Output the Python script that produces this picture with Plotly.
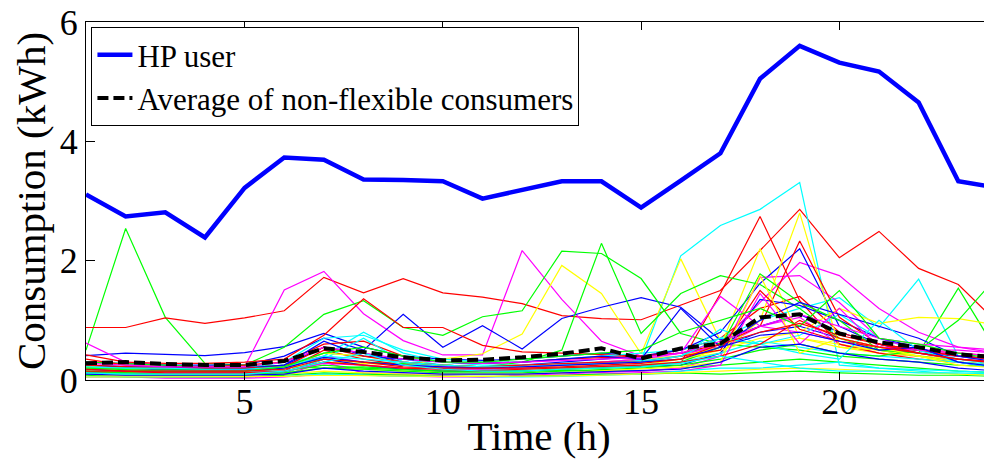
import plotly.graph_objects as go

hours = list(range(1, 25))

hp_user = [3.11, 2.74, 2.81, 2.39, 3.22, 3.73, 3.69, 3.36, 3.35, 3.33, 3.04, 3.18,
           3.33, 3.33, 2.89, 3.34, 3.80, 5.05, 5.60, 5.32, 5.17, 4.65, 3.33, 3.22]

avg_nonflex = [0.28, 0.30, 0.27, 0.25, 0.25, 0.32, 0.53, 0.47, 0.38, 0.33, 0.34, 0.38,
               0.44, 0.53, 0.36, 0.53, 0.61, 1.05, 1.10, 0.78, 0.63, 0.55, 0.43, 0.38]

c01 = [0.41,0.45,0.43,0.41,0.46,0.56,0.78,0.55,0.40,0.35,0.33,0.35,0.40,0.45,0.40,0.45,0.55,0.80,0.90,0.70,0.55,0.45,0.40,0.35]
c02 = [0.50,2.54,1.05,0.28,0.25,0.22,0.20,0.22,0.18,0.15,0.17,0.15,0.16,0.15,0.15,0.20,0.25,0.30,0.35,0.30,0.25,0.20,0.15,0.12]
c03 = [0.88,0.88,1.04,0.95,1.04,1.16,1.72,1.46,1.70,1.46,1.39,1.28,1.08,1.03,1.01,1.25,1.50,2.17,2.86,2.05,2.49,1.87,1.60,0.95]
c04 = [0.20,0.20,0.18,0.18,0.18,0.25,0.45,0.40,0.35,0.25,0.22,0.22,0.25,0.28,0.33,2.08,2.59,2.86,3.31,0.25,0.20,0.18,0.15,0.12]
c05 = [0.62,0.30,0.25,0.20,0.22,1.51,1.82,1.11,0.66,0.42,0.42,2.17,1.35,0.65,0.40,0.45,0.55,0.90,1.05,0.60,0.45,0.40,0.35,0.30]
c06 = [0.18,0.15,0.15,0.15,0.15,0.20,0.30,0.28,0.25,0.35,0.44,0.77,1.92,1.45,0.44,2.03,0.66,0.60,0.70,0.55,0.45,0.40,0.35,0.30]
c07 = [0.30,0.28,0.25,0.25,0.25,0.40,0.70,0.50,1.10,0.55,0.91,0.52,1.03,1.22,1.38,1.22,0.67,0.90,1.10,0.80,0.60,0.50,0.40,0.35]
c08 = [0.30,0.28,0.25,0.22,0.25,0.55,1.10,1.33,0.88,0.75,1.06,1.16,2.16,2.12,1.70,0.78,0.60,0.55,0.50,0.40,0.35,0.30,0.25,0.22]
c09 = [0.42,0.30,0.28,0.28,0.30,0.35,0.75,1.36,0.88,0.88,0.58,0.47,0.45,0.42,0.40,0.50,0.70,1.20,1.40,0.80,0.60,0.50,0.40,0.35]
c10 = [0.25,0.22,0.20,0.20,0.20,0.30,0.70,0.75,0.50,0.35,0.30,0.30,0.35,0.40,0.45,0.50,0.70,1.00,1.20,1.38,0.88,1.69,0.40,0.30]
c11 = [0.20,0.18,0.15,0.15,0.15,0.25,0.40,0.30,0.25,0.22,0.20,0.22,0.25,0.30,0.35,0.40,0.60,1.30,1.97,1.75,1.20,0.80,0.55,0.45]
c12 = [0.15,0.12,0.12,0.12,0.12,0.15,0.30,0.25,0.20,0.18,0.18,0.20,0.25,0.30,0.35,0.40,0.55,2.20,0.70,0.60,0.50,0.40,0.30,0.25]
c13 = [0.20,0.18,0.18,0.17,0.17,0.25,0.55,0.45,0.30,0.25,0.22,0.25,0.30,0.35,0.40,0.50,0.80,1.62,2.20,0.90,0.60,0.45,0.35,0.30]
c14 = [0.22,0.20,0.18,0.18,0.20,0.25,0.35,0.30,0.28,0.25,0.22,0.30,0.50,2.29,0.78,1.45,1.75,1.60,1.20,0.70,0.50,0.40,0.30,0.25]
c15 = [0.12,0.12,0.10,0.10,0.10,0.15,0.50,0.35,0.25,0.20,0.18,0.18,0.20,0.22,0.25,0.28,1.45,2.74,1.33,0.60,0.45,0.35,0.30,0.25]
c16 = [0.15,0.14,0.13,0.13,0.13,0.18,0.40,0.80,0.45,0.30,0.25,0.25,0.28,0.30,0.32,0.40,0.85,0.60,0.75,1.10,0.70,0.50,0.35,0.25]
c17 = [0.10,0.08,0.05,0.05,0.05,0.08,0.30,0.12,0.10,0.08,0.05,0.08,0.10,0.12,0.15,0.20,0.40,1.72,1.75,1.30,0.70,0.50,0.40,0.30]
c18 = [0.10,0.10,0.10,0.10,0.10,0.12,0.20,0.18,0.15,0.15,0.15,0.15,0.18,0.20,0.25,0.35,0.45,1.00,2.80,0.55,0.50,0.40,0.30,0.25]
c19 = [0.12,0.10,0.10,0.10,0.10,0.12,0.35,0.25,0.18,0.15,0.15,0.15,0.18,0.20,0.22,0.25,0.45,1.35,1.25,1.00,0.70,0.55,0.30,0.20]
c20 = [0.15,0.12,0.12,0.12,0.12,0.15,0.25,0.20,0.18,0.15,0.15,0.15,0.18,0.20,0.22,0.30,0.55,1.78,1.30,1.00,0.50,0.45,1.54,0.45]
c21 = [0.35,0.25,0.22,0.22,0.25,0.30,0.60,0.65,0.40,0.30,0.28,0.30,0.35,0.38,0.40,0.45,0.60,0.90,2.33,1.05,0.60,0.50,0.40,0.35]
c22 = [0.10,0.10,0.08,0.08,0.08,0.12,0.35,0.70,0.30,0.20,0.18,0.18,0.20,0.22,0.25,0.30,0.45,0.65,0.55,0.45,0.40,0.35,0.30,0.20]
c23 = [0.20,0.15,0.12,0.12,0.12,0.15,0.28,0.25,0.20,0.18,0.18,0.20,0.25,0.30,0.35,0.45,1.40,0.90,0.80,0.65,0.55,0.50,0.50,0.45]
c24 = [0.20,0.18,0.15,0.15,0.15,0.20,0.45,0.40,0.30,0.25,0.22,0.22,0.25,0.28,0.30,0.35,0.50,0.70,0.80,1.20,0.95,1.05,1.03,0.92]
c25 = [0.25,0.22,0.22,0.20,0.20,0.25,0.65,0.40,0.35,0.30,0.28,0.30,0.35,0.40,0.35,1.20,0.55,1.00,1.30,1.10,0.90,0.70,0.40,0.30]
c26 = [0.12,0.10,0.10,0.10,0.10,0.12,0.20,0.18,0.15,0.12,0.12,0.12,0.15,0.18,0.20,0.25,0.35,0.50,0.60,0.45,0.40,0.50,1.00,1.75]
c27 = [0.25,0.22,0.20,0.20,0.20,0.22,0.55,0.40,0.30,0.25,0.22,0.25,0.28,0.30,0.30,0.40,0.50,1.50,0.85,0.65,0.55,0.50,0.45,0.40]
c28 = [0.22,0.20,0.20,0.18,0.18,0.22,0.40,0.35,0.30,0.25,0.22,0.22,0.25,0.28,0.30,0.40,0.70,0.60,0.45,0.35,1.00,0.50,0.30,0.25]
c29 = [0.05,0.05,0.03,0.03,0.03,0.05,0.10,0.08,0.06,0.05,0.05,0.06,0.08,0.10,0.12,0.15,0.25,1.45,0.60,1.20,0.55,0.50,0.45,0.40]
c30 = [0.08,0.08,0.08,0.08,0.08,0.10,0.15,0.12,0.10,0.10,0.10,0.10,0.12,0.15,0.18,0.22,0.30,1.75,0.45,0.70,0.55,0.40,0.25,0.20]
c31 = [0.18,0.15,0.15,0.15,0.15,0.20,0.38,0.30,0.25,0.22,0.20,0.22,0.25,0.28,0.30,0.35,0.55,0.75,0.80,0.65,0.50,0.55,0.30,0.22]
c32 = [0.08,0.05,0.05,0.05,0.05,0.08,0.12,0.10,0.08,0.06,0.06,0.06,0.08,0.10,0.10,0.12,0.10,0.12,0.15,0.12,0.10,0.08,0.08,0.06]
c33 = [0.15,0.15,0.12,0.12,0.12,0.15,0.30,0.25,0.20,0.18,0.15,0.18,0.20,0.22,0.25,0.30,0.40,0.60,1.00,0.70,0.55,0.45,0.35,0.30]
c34 = [0.05,0.05,0.05,0.05,0.05,0.06,0.10,0.08,0.06,0.06,0.05,0.05,0.06,0.08,0.10,0.15,0.20,0.20,0.25,0.30,0.20,0.15,0.10,0.08]
c35 = [0.28,0.25,0.22,0.22,0.22,0.30,0.55,0.45,0.35,0.30,0.28,0.30,0.32,0.35,0.38,0.45,0.65,0.90,1.10,0.90,0.70,0.60,0.55,0.50]
c36 = [0.05,0.05,0.05,0.05,0.05,0.06,0.08,0.07,0.06,0.06,0.06,0.06,0.07,0.08,0.10,0.12,0.15,0.18,0.20,0.18,0.15,0.12,0.10,0.08]
c37 = [0.10,0.08,0.08,0.08,0.08,0.10,0.20,0.15,0.12,0.10,0.10,0.10,0.12,0.14,0.15,0.18,0.30,0.55,0.60,0.45,0.35,0.30,0.20,0.15]
c38 = [0.20,0.18,0.15,0.15,0.15,0.22,0.45,0.55,0.40,0.30,0.30,0.35,0.40,0.45,0.50,0.80,1.00,1.20,0.90,1.50,0.70,0.60,0.45,0.35]
c39 = [0.18,0.15,0.15,0.15,0.15,0.18,0.35,0.30,0.22,0.20,0.20,0.20,0.22,0.25,0.28,0.35,0.60,0.80,0.95,0.75,0.60,0.45,0.35,0.28]
c40 = [0.12,0.10,0.10,0.10,0.10,0.15,0.30,0.45,0.25,0.18,0.15,0.15,0.18,0.20,0.22,0.28,0.40,0.30,0.20,0.15,0.15,0.12,0.12,0.10]

consumers = [c01, c02, c03, c04, c05, c06, c07, c08, c09, c10, c11, c12, c13, c14,
             c15, c16, c17, c18, c19, c20, c21, c22, c23, c24, c25, c26, c27, c28,
             c29, c30, c31, c32, c33, c34, c35, c36, c37, c38, c39, c40]

x_ticks = [5, 10, 15, 20]
y_ticks = [0, 2, 4, 6]

color_cycle = ["#0000FF", "#00FF00", "#FF0000", "#00FFFF", "#FF00FF", "#FFFF00"]
FONT = "Times New Roman, Liberation Serif, DejaVu Serif, serif"

fig = go.Figure()

fig.add_trace(go.Scatter(x=hours, y=hp_user, mode="lines", name="HP user",
                         line=dict(color="#0000FF", width=4.5)))

for i, series in enumerate(consumers):
    fig.add_trace(go.Scatter(x=hours, y=series, mode="lines", showlegend=False,
                             hoverinfo="skip",
                             line=dict(color=color_cycle[i % 6], width=1.2)))

fig.add_trace(go.Scatter(x=hours, y=avg_nonflex, mode="lines",
                         name="Average of non-flexible consumers",
                         line=dict(color="black", width=4, dash="11px,5px")))

# the page body adds an 8px margin, so the figure is sized to fit the window
fig.update_layout(
    width=984, height=461,
    margin=dict(l=78, r=0, t=14, b=89),
    paper_bgcolor="white", plot_bgcolor="white",
    font=dict(family=FONT, color="black", size=36),
    showlegend=True,
    legend=dict(x=0.006, y=0.986, xanchor="left", yanchor="top",
                bgcolor="white", bordercolor="black", borderwidth=1,
                font=dict(family=FONT, size=31, color="black"),
                itemwidth=35, tracegroupgap=0),
    xaxis=dict(range=[1, 23.85], tickvals=x_ticks, ticks="inside", ticklen=8,
               tickcolor="black", showline=True, linecolor="black", linewidth=1,
               mirror="ticks", showgrid=False, zeroline=False, automargin=False,
               ticklabelstandoff=-10, ticklabeloverflow="allow",
               tickfont=dict(family=FONT, size=36),
               title=dict(text="Time (h)", font=dict(family=FONT, size=41), standoff=0)),
    yaxis=dict(range=[0, 6], tickvals=y_ticks, ticks="inside", ticklen=9,
               tickcolor="black", showline=True, linecolor="black", linewidth=1,
               showgrid=False, zeroline=False, automargin=False,
               ticklabeloverflow="allow",
               tickfont=dict(family=FONT, size=36),
               title=dict(text="Consumption (kWh)", font=dict(family=FONT, size=41), standoff=6)),
)

fig.write_html("out.html")
